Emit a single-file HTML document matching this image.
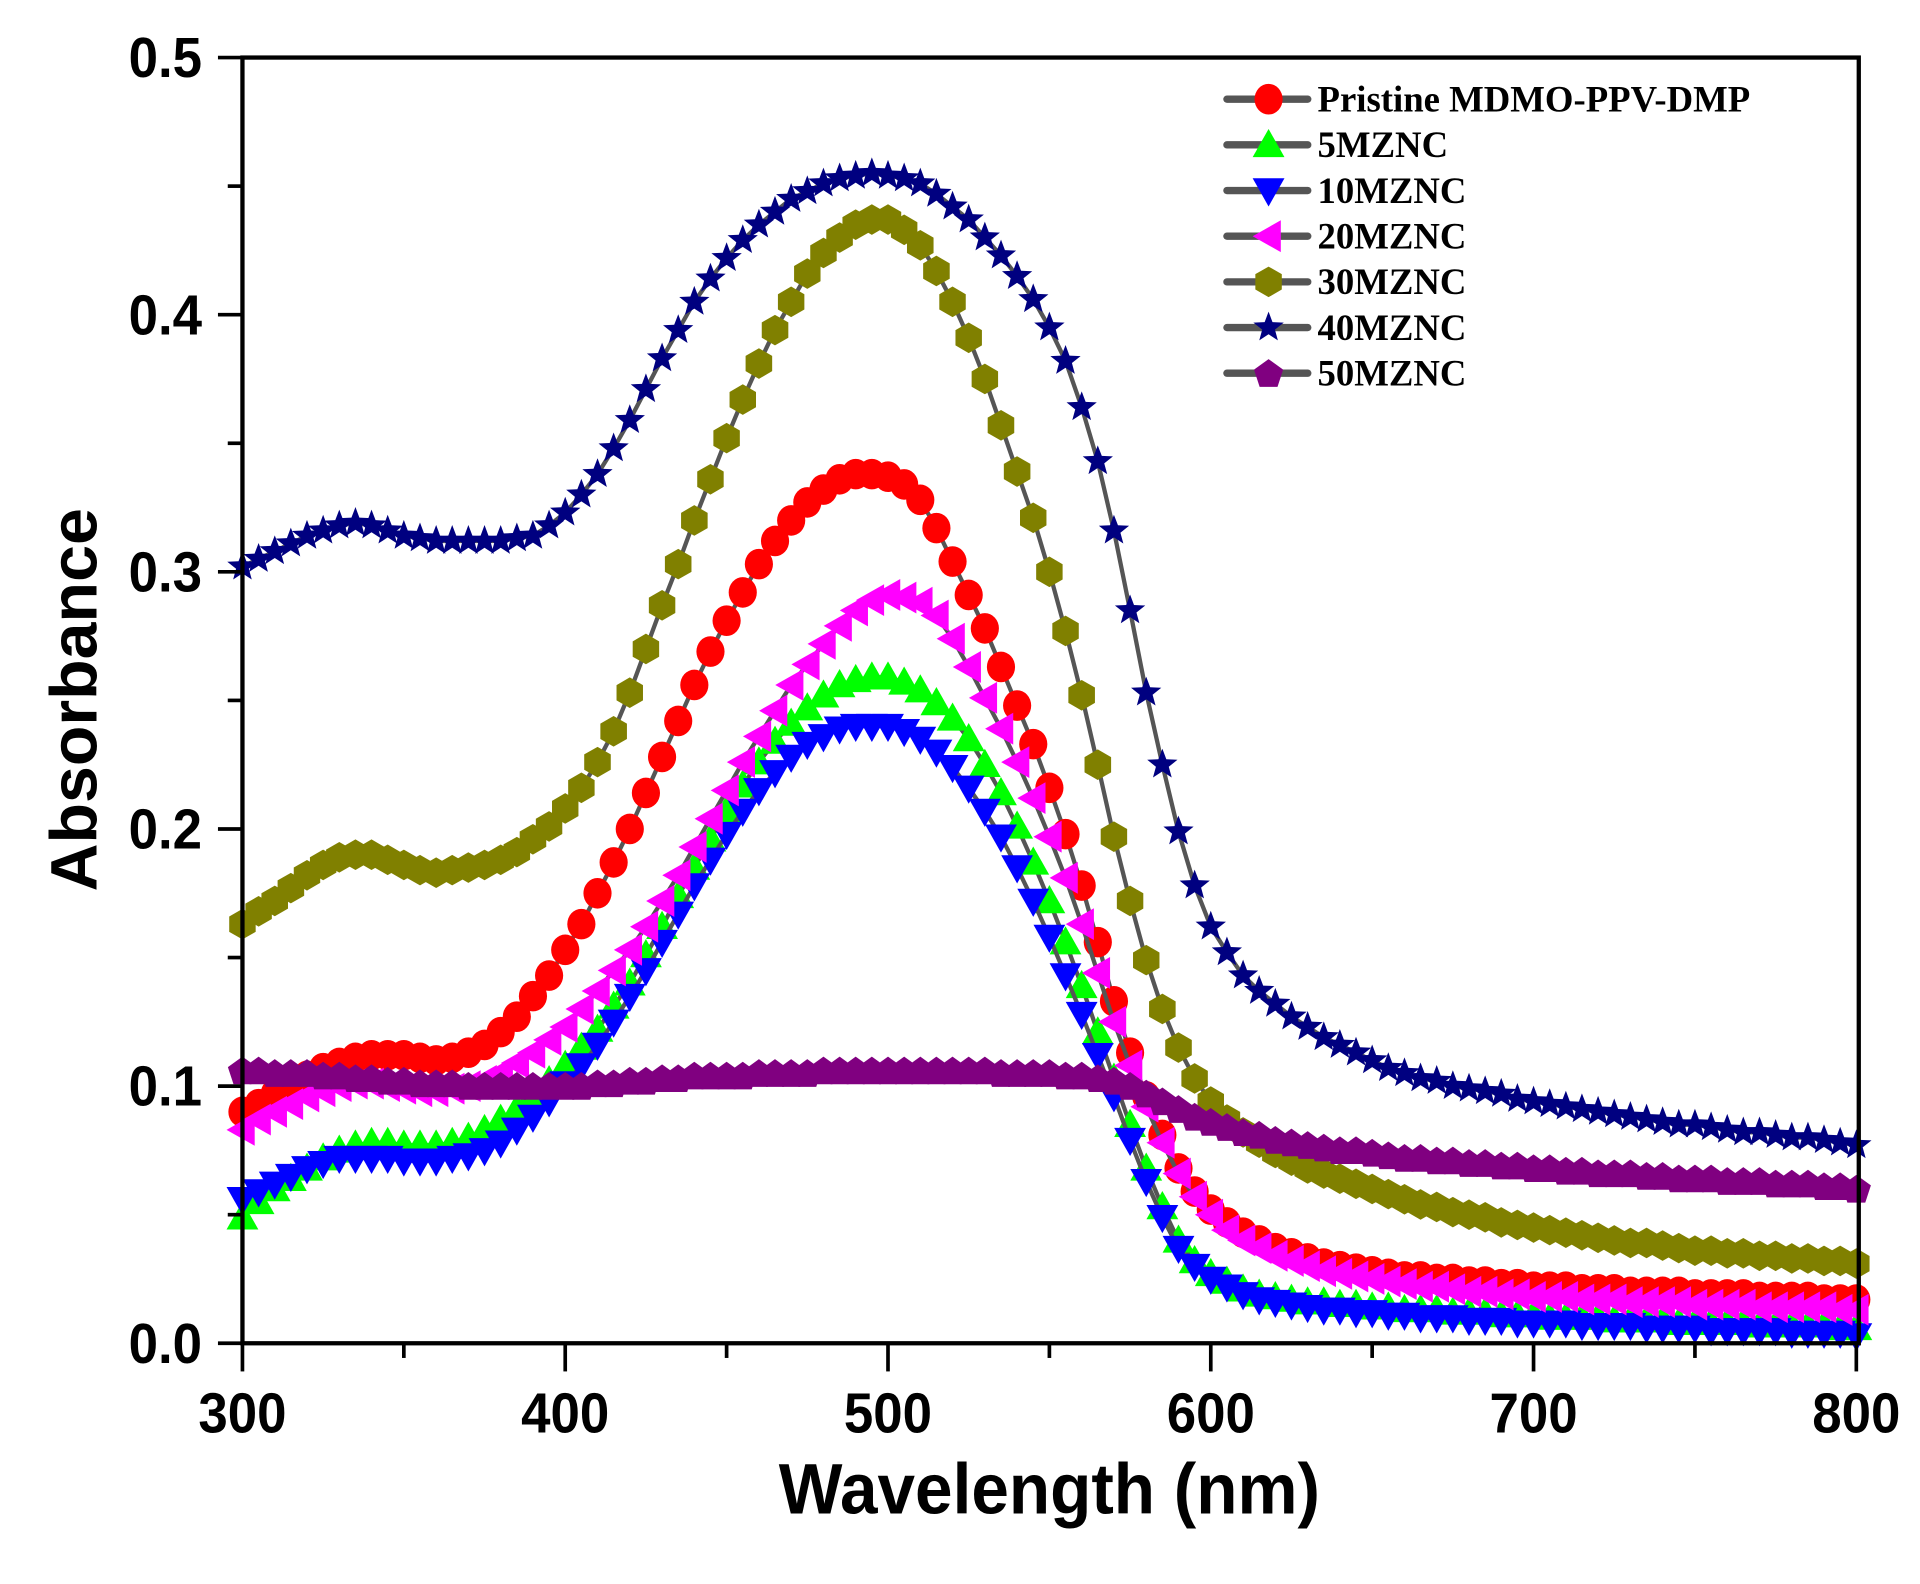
<!DOCTYPE html>
<html><head><meta charset="utf-8"><style>
html,body{margin:0;padding:0;background:#fff;}
svg{display:block;}
</style></head><body>
<svg id="chart" width="1920" height="1584" viewBox="0 0 1568 1293.6" preserveAspectRatio="none" xmlns="http://www.w3.org/2000/svg">
<g id="plot"></g>
<g id="axes"></g>
<g id="legend"></g>
</svg>
<script>
const xStart = 300, xStep = 5;
const xTicks = [300, 400, 500, 600, 700, 800];
const yTicks = ["0.0", "0.1", "0.2", "0.3", "0.4", "0.5"];
const seriesNames = ["Pristine MDMO-PPV-DMP", "5MZNC", "10MZNC", "20MZNC", "30MZNC", "40MZNC", "50MZNC"];
const pristine = [.090,.093,.097,.100,.104,.107,.109,.111,.112,.112,.112,.111,.110,.111,.113,.116,.121,.127,.135,.143,
.153,.163,.175,.187,.200,.214,.228,.242,.256,.269,.281,.292,.303,.312,.320,.327,.332,.336,.338,.338,
.337,.334,.328,.317,.304,.291,.278,.263,.248,.233,.216,.198,.178,.156,.133,.113,.096,.081,.068,.059,
.052,.047,.043,.040,.037,.035,.033,.031,.030,.029,.028,.027,.026,.026,.025,.025,.024,.024,.023,.023,
.022,.022,.022,.021,.021,.021,.020,.020,.020,.020,.019,.019,.019,.019,.018,.018,.018,.018,.017,.017,.017];
const mz5 = [.049,.055,.060,.064,.068,.072,.075,.077,.078,.078,.077,.077,.077,.078,.080,.083,.087,.091,.097,.102,
.108,.115,.122,.131,.140,.151,.162,.174,.185,.196,.207,.217,.226,.234,.241,.247,.252,.256,.258,.259,
.259,.257,.254,.249,.243,.235,.225,.214,.201,.187,.172,.156,.139,.121,.103,.085,.068,.053,.040,.032,
.027,.024,.021,.019,.018,.017,.016,.016,.015,.015,.014,.014,.013,.013,.013,.012,.012,.012,.011,.011,
.011,.010,.010,.010,.010,.009,.009,.009,.009,.008,.008,.008,.008,.008,.007,.007,.007,.007,.007,.006,.006];
const mz10 = [.056,.059,.062,.065,.068,.070,.072,.072,.072,.072,.071,.071,.071,.072,.073,.075,.078,.083,.088,.094,
.101,.108,.116,.125,.135,.145,.156,.167,.178,.188,.198,.207,.215,.222,.228,.233,.236,.239,.240,.240,
.240,.238,.235,.230,.224,.216,.207,.197,.185,.172,.158,.143,.128,.112,.096,.079,.063,.049,.037,.030,
.025,.022,.019,.017,.016,.015,.014,.013,.013,.012,.012,.011,.011,.010,.010,.010,.009,.009,.009,.008,
.008,.008,.008,.007,.007,.007,.007,.006,.006,.006,.006,.005,.005,.005,.005,.005,.004,.004,.004,.004,.003];
const mz20 = [.083,.087,.090,.093,.096,.098,.100,.101,.101,.100,.099,.098,.098,.099,.100,.102,.105,.109,.113,.118,
.123,.130,.137,.145,.153,.162,.172,.182,.193,.204,.215,.226,.236,.246,.256,.264,.272,.279,.285,.289,
.291,.290,.288,.283,.274,.263,.251,.239,.226,.212,.197,.181,.163,.144,.125,.108,.092,.078,.066,.057,
.050,.044,.040,.037,.034,.032,.030,.028,.027,.026,.025,.024,.023,.022,.022,.021,.020,.020,.019,.019,
.018,.018,.018,.017,.017,.017,.016,.016,.016,.016,.015,.015,.015,.015,.014,.014,.014,.014,.014,.013,.013];
const mz30 = [.163,.168,.172,.177,.182,.186,.189,.190,.190,.188,.186,.184,.183,.184,.185,.186,.188,.191,.196,.201,
.208,.216,.226,.238,.253,.270,.287,.303,.320,.336,.352,.367,.381,.394,.405,.416,.424,.430,.435,.437,
.437,.433,.427,.417,.405,.391,.375,.357,.339,.321,.300,.277,.252,.225,.197,.172,.149,.130,.115,.103,
.094,.087,.082,.078,.074,.071,.068,.066,.064,.062,.060,.058,.056,.054,.053,.051,.050,.049,.047,.046,
.045,.044,.043,.042,.041,.040,.039,.039,.038,.037,.036,.036,.035,.035,.034,.034,.033,.033,.032,.032,.031];
const mz40 = [.302,.305,.308,.311,.314,.316,.318,.319,.318,.316,.314,.313,.312,.312,.312,.312,.312,.313,.314,.318,
.323,.330,.338,.348,.359,.371,.383,.394,.405,.414,.422,.429,.435,.440,.445,.448,.451,.453,.454,.455,
.454,.453,.451,.447,.442,.437,.430,.423,.415,.406,.395,.382,.364,.343,.316,.285,.253,.225,.199,.178,
.162,.152,.143,.137,.132,.127,.123,.119,.116,.113,.110,.107,.105,.103,.102,.100,.099,.098,.097,.095,
.094,.093,.092,.091,.090,.089,.088,.087,.086,.085,.085,.084,.083,.082,.082,.081,.080,.080,.079,.078,.077];
const mz50 = [.106,.106,.105,.105,.105,.104,.104,.103,.103,.102,.102,.101,.101,.101,.100,.100,.100,.100,.100,.100,
.100,.100,.101,.101,.102,.102,.103,.103,.104,.104,.104,.104,.105,.105,.105,.105,.106,.106,.106,.106,
.106,.106,.106,.106,.106,.106,.106,.105,.105,.105,.105,.104,.104,.103,.102,.100,.097,.094,.091,.088,
.086,.084,.082,.081,.079,.078,.077,.076,.075,.075,.074,.073,.072,.072,.071,.071,.070,.070,.069,.069,
.068,.068,.067,.067,.066,.066,.066,.065,.065,.064,.064,.064,.063,.063,.063,.062,.062,.062,.061,.061,.060];

const NS = "http://www.w3.org/2000/svg";
const X = w => 198 + (w - 300) * 1318 / 500;
const Y = v => 1097 - v * 2100;
function mk(tag, attrs, parent) { const e = document.createElementNS(NS, tag); for (const k in attrs) e.setAttribute(k, attrs[k]); parent.appendChild(e); return e; }
const colors = ["#ff0000", "#00ff00", "#0000ff", "#ff00ff", "#808000", "#000080", "#800080"];
const shapes = ["circle", "up", "down", "left", "hex", "star", "pent"];
const allSeries = [pristine, mz5, mz10, mz20, mz30, mz40, mz50];
function poly(cx, cy, n, r, rot) { let p = []; for (let i = 0; i < n; i++) { const a = rot + i * 2 * Math.PI / n; p.push((cx + r * Math.cos(a)).toFixed(1) + "," + (cy + r * Math.sin(a)).toFixed(1)); } return p.join(" "); }
function starPts(cx, cy, R, r) { let p = []; for (let i = 0; i < 10; i++) { const a = -Math.PI / 2 + i * Math.PI / 5; const rr = i % 2 ? r : R; p.push((cx + rr * Math.cos(a)).toFixed(1) + "," + (cy + rr * Math.sin(a)).toFixed(1)); } return p.join(" "); }
function marker(shape, cx, cy, color, parent) {
  let el;
  if (shape === "circle") el = mk("ellipse", { cx: cx, cy: cy, rx: 11.5, ry: 12.5 }, parent);
  else if (shape === "up") el = mk("polygon", { points: `${cx},${cy - 13} ${cx + 13},${cy + 10} ${cx - 13},${cy + 10}` }, parent);
  else if (shape === "down") el = mk("polygon", { points: `${cx - 13},${cy - 10} ${cx + 13},${cy - 10} ${cx},${cy + 13}` }, parent);
  else if (shape === "left") el = mk("polygon", { points: `${cx - 13},${cy} ${cx + 10},${cy - 13} ${cx + 10},${cy + 13}` }, parent);
  else if (shape === "hex") el = mk("polygon", { points: poly(cx, cy, 6, 12.5, -Math.PI / 2) }, parent);
  else if (shape === "star") el = mk("polygon", { points: starPts(cx, cy, 13, 5.5) }, parent);
  else el = mk("polygon", { points: poly(cx, cy + 1, 5, 12.5, -Math.PI / 2) }, parent);
  el.setAttribute("fill", color);
  return el;
}
const plot = document.getElementById("plot");
allSeries.forEach((data, si) => {
  const g = mk("g", {}, plot);
  
  
  const pts = data.map((v, i) => X(xStart + i * xStep).toFixed(1) + "," + Y(v).toFixed(1)).join(" ");
  const line = mk("polyline", { points: pts, fill: "none", stroke: "#555", "stroke-width": 3.5 }, g);
  
  
  data.forEach((v, i) => {
    const m = marker(shapes[si], X(xStart + i * xStep), Y(v), colors[si], g);
    
    
  });
});
const axes = document.getElementById("axes");
const frame = mk("rect", { x: 198, y: 47, width: 1320, height: 1050, fill: "none", stroke: "#000", "stroke-width": 3.5 }, axes);


const af = "font-family:'Liberation Sans',Arial,sans-serif;font-weight:bold;";
xTicks.forEach(t => {
  const tk = mk("line", { x1: X(t), y1: 1097, x2: X(t), y2: 1120, stroke: "#000", "stroke-width": 3 }, axes);
  
  
  const lb = mk("text", { x: X(t) - 36, y: 1170, textLength: 72, lengthAdjust: "spacingAndGlyphs", style: af + "font-size:46px" }, axes);
  lb.textContent = t;
  
  
  if (t < 800) {
    const mt = mk("line", { x1: X(t + 50), y1: 1097, x2: X(t + 50), y2: 1109, stroke: "#000", "stroke-width": 3 }, axes);
    
    
  }
});
yTicks.forEach((t, i) => {
  const v = parseFloat(t);
  const tk = mk("line", { x1: 178, y1: Y(v), x2: 198, y2: Y(v), stroke: "#000", "stroke-width": 3 }, axes);
  
  
  const lb = mk("text", { x: 105, y: Y(v) + 16, textLength: 60, lengthAdjust: "spacingAndGlyphs", style: af + "font-size:46px" }, axes);
  lb.textContent = t;
  
  
  if (i < yTicks.length - 1) {
    const mt = mk("line", { x1: 186, y1: Y(v + 0.05), x2: 198, y2: Y(v + 0.05), stroke: "#000", "stroke-width": 3 }, axes);
    
    
  }
});
const xt = mk("text", { x: 636, y: 1236, textLength: 442, lengthAdjust: "spacingAndGlyphs", style: af + "font-size:58px" }, axes);
xt.textContent = "Wavelength (nm)";


const yt = mk("text", { x: -156, y: 0, textLength: 313, lengthAdjust: "spacingAndGlyphs", transform: "translate(79,572) rotate(-90)", style: af + "font-size:54px" }, axes);
yt.textContent = "Absorbance";


const legend = document.getElementById("legend");
seriesNames.forEach((n, i) => {
  const y = 81 + i * 37.3;
  const g = mk("g", {}, legend);
  
  
  mk("line", { x1: 1002, y1: y, x2: 1068, y2: y, stroke: "#555", "stroke-width": 6, "stroke-linecap": "round" }, g);
  marker(shapes[i], 1036, y, colors[i], g);
  const tx = mk("text", { x: 1076, y: y + 10, style: "font-family:'Liberation Serif','Times New Roman',serif;font-weight:bold;font-size:30px" }, g);
  tx.textContent = n;
});
</script>
</body></html>
